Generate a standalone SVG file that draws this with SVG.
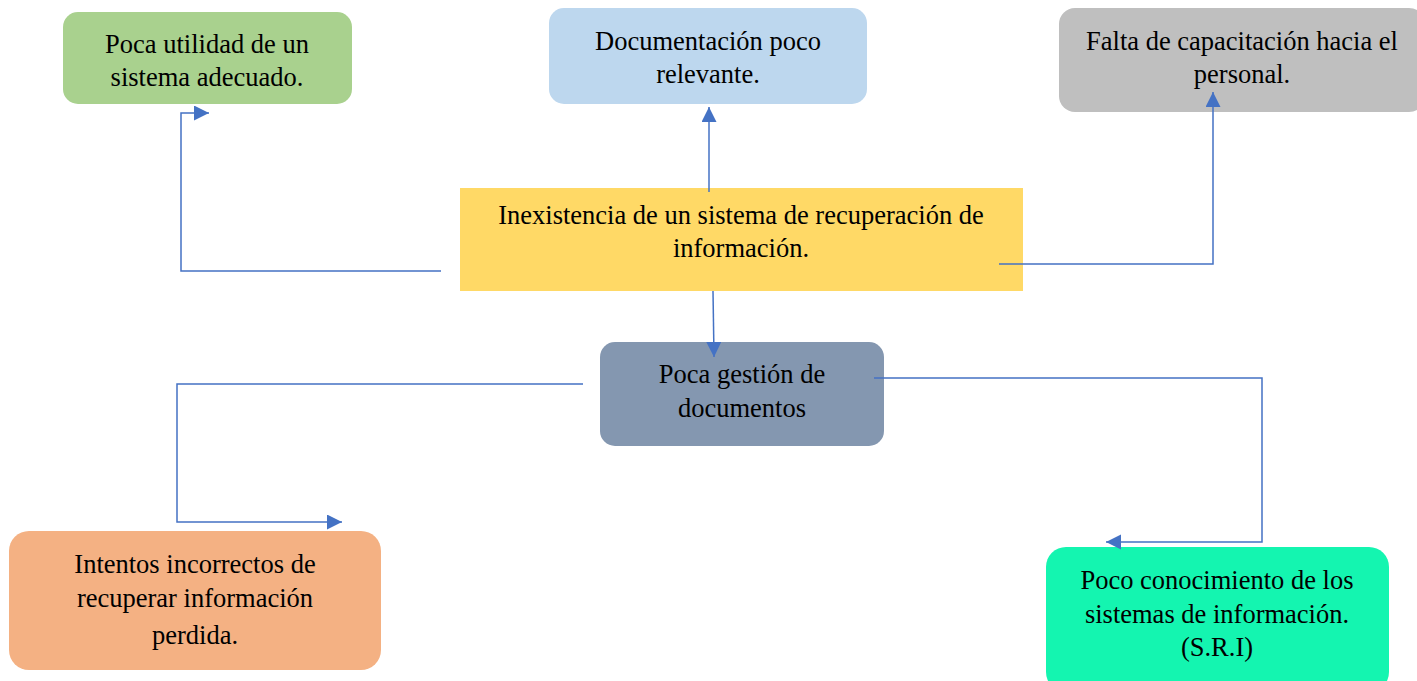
<svg xmlns="http://www.w3.org/2000/svg" width="1417" height="681" viewBox="0 0 1417 681">
<style>
text{font-family:"Liberation Serif","Times New Roman",serif;font-size:26.5px;fill:#000;text-anchor:middle}
.c{fill:none;stroke:#4472C4;stroke-width:1.5}
</style>
<defs>
<marker id="ah" markerUnits="userSpaceOnUse" markerWidth="16" markerHeight="16" refX="15" refY="7.5" orient="auto">
<path d="M0,0 L15,7.5 L0,15 z" fill="#4472C4"/>
</marker>
</defs>
<rect width="1417" height="681" fill="#fff"/>
<g id="n-green">
<rect x="63" y="12" width="289" height="92" rx="15" fill="#A9D18E"/>
<text x="207" y="53">Poca utilidad de un</text>
<text x="207" y="86">sistema adecuado.</text>
</g>
<g id="n-blue">
<rect x="549" y="8" width="318" height="96" rx="15" fill="#BDD7EE"/>
<text x="708" y="50">Documentación poco</text>
<text x="708" y="83">relevante.</text>
</g>
<g id="n-gray">
<rect x="1059" y="8" width="366" height="104" rx="16" fill="#BFBFBF"/>
<text x="1242" y="50">Falta de capacitación hacia el</text>
<text x="1242" y="83">personal.</text>
</g>
<g id="n-yellow">
<rect x="460" y="188" width="563" height="103" fill="#FFD966"/>
<text x="741" y="224">Inexistencia de un sistema de recuperación de</text>
<text x="741" y="257">información.</text>
</g>
<g id="n-slate">
<rect x="600" y="342" width="284" height="104" rx="15" fill="#8497B0"/>
<text x="742" y="383">Poca gestión de</text>
<text x="742" y="417">documentos</text>
</g>
<g id="n-orange">
<rect x="9" y="531" width="372" height="139" rx="20" fill="#F4B183"/>
<text x="195" y="573">Intentos incorrectos de</text>
<text x="195" y="607">recuperar información</text>
<text x="195" y="644">perdida.</text>
</g>
<g id="n-teal">
<rect x="1046" y="547" width="343" height="145" rx="20" fill="#14F5B0"/>
<text x="1217" y="589">Poco conocimiento de los</text>
<text x="1217" y="623">sistemas de información.</text>
<text x="1217" y="656">(S.R.I)</text>
</g>
<g id="connectors">
<polyline class="c" points="441,271 181,271 181,113 209,113" marker-end="url(#ah)"/>
<line class="c" x1="709" y1="192" x2="709" y2="107" marker-end="url(#ah)"/>
<polyline class="c" points="999,264 1213,264 1213,92" marker-end="url(#ah)"/>
<line class="c" x1="713" y1="291" x2="714" y2="357" marker-end="url(#ah)"/>
<polyline class="c" points="583,384 177,384 177,522 342,522" marker-end="url(#ah)"/>
<polyline class="c" points="874,378 1262,378 1262,542 1106,542" marker-end="url(#ah)"/>
</g>
</svg>
